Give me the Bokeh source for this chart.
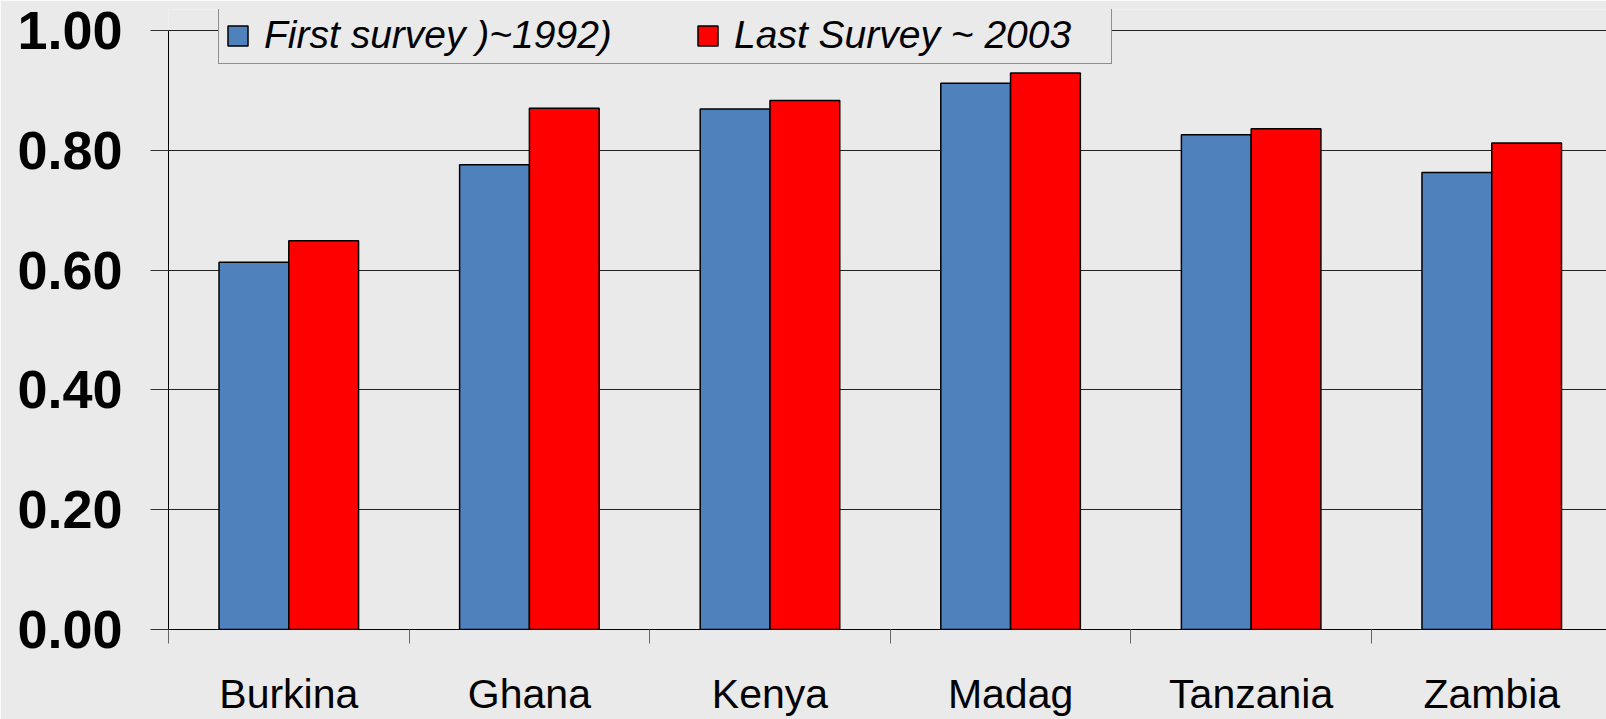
from bokeh.plotting import figure
from bokeh.models import ColumnDataSource, Range1d, FixedTicker, NumeralTickFormatter, Legend, LegendItem
from bokeh.embed import file_html
from bokeh.resources import INLINE

categories = ["Burkina", "Ghana", "Kenya", "Madag", "Tanzania", "Zambia"]
first_survey = [0.613, 0.776, 0.869, 0.912, 0.826, 0.763]
last_survey = [0.649, 0.870, 0.883, 0.929, 0.836, 0.812]
y_ticks = [0.0, 0.2, 0.4, 0.6, 0.8, 1.0]
series_names = ["First survey )~1992)", "Last Survey ~ 2003"]

BG = "#EAEAEA"
BLUE = "#4F81BD"
RED = "#FF0000"
bar_w = 0.29

idx = list(range(len(categories)))
src1 = ColumnDataSource(dict(x=[i + 0.5 - bar_w / 2 for i in idx], top=first_survey))
src2 = ColumnDataSource(dict(x=[i + 0.5 + bar_w / 2 for i in idx], top=last_survey))

p = figure(width=1606, height=719, output_backend="svg", toolbar_location=None,
           x_range=Range1d(0, 5.977), y_range=Range1d(0, 1.035),
           min_border_left=168, min_border_right=0, min_border_top=9, min_border_bottom=90)
p.background_fill_color = BG
p.border_fill_color = BG
p.outline_line_color = None

r1 = p.vbar(x="x", top="top", bottom=0, width=bar_w, source=src1,
            fill_color=BLUE, line_color="black", line_width=1.5)
r2 = p.vbar(x="x", top="top", bottom=0, width=bar_w, source=src2,
            fill_color=RED, line_color="black", line_width=1.5)

# y axis
ya = p.yaxis[0]
ya.ticker = FixedTicker(ticks=y_ticks)
ya.formatter = NumeralTickFormatter(format="0.00")
ya.bounds = (0, 1.0)
ya.major_label_text_font = "Liberation Sans"
ya.major_label_text_font_style = "bold"
ya.major_label_text_font_size = "54px"
ya.major_label_text_color = "black"
ya.major_tick_out = 18
ya.major_tick_in = 0
ya.major_tick_line_color = "#333333"
ya.minor_tick_line_color = None
ya.axis_line_color = "black"
ya.major_label_standoff = 28

# x axis: labels at centres, ticks at category boundaries
xa = p.xaxis[0]
xa.ticker = FixedTicker(ticks=[i + 0.5 for i in idx], minor_ticks=list(range(len(categories) + 1)))
xa.major_label_overrides = {i + 0.5: c for i, c in zip(idx, categories)}
xa.major_tick_out = 0
xa.major_tick_in = 0
xa.minor_tick_out = 14
xa.minor_tick_in = 0
xa.minor_tick_line_color = "#666666"
xa.axis_line_color = "black"
xa.major_label_text_font = "Liberation Sans"
xa.major_label_text_font_size = "41px"
xa.major_label_text_color = "black"
xa.major_label_standoff = 27

p.xgrid.grid_line_color = None
p.ygrid.ticker = FixedTicker(ticks=y_ticks[1:])
p.ygrid.grid_line_color = "#222222"
p.ygrid.grid_line_width = 1

legend = Legend(items=[LegendItem(label=series_names[0], renderers=[r1]),
                       LegendItem(label=series_names[1], renderers=[r2])],
                orientation="horizontal", location=(50, 565), margin=0, padding=6,
                glyph_width=25, glyph_height=25, label_standoff=14, spacing=60, label_width=371,
                label_text_font="Liberation Sans", label_text_font_style="italic",
                label_text_font_size="39px", label_text_color="black",
                background_fill_color=BG, background_fill_alpha=1.0,
                border_line_color="#333333", border_line_width=1)
p.add_layout(legend, "center")

open("out.html", "w").write(file_html(p, INLINE))
